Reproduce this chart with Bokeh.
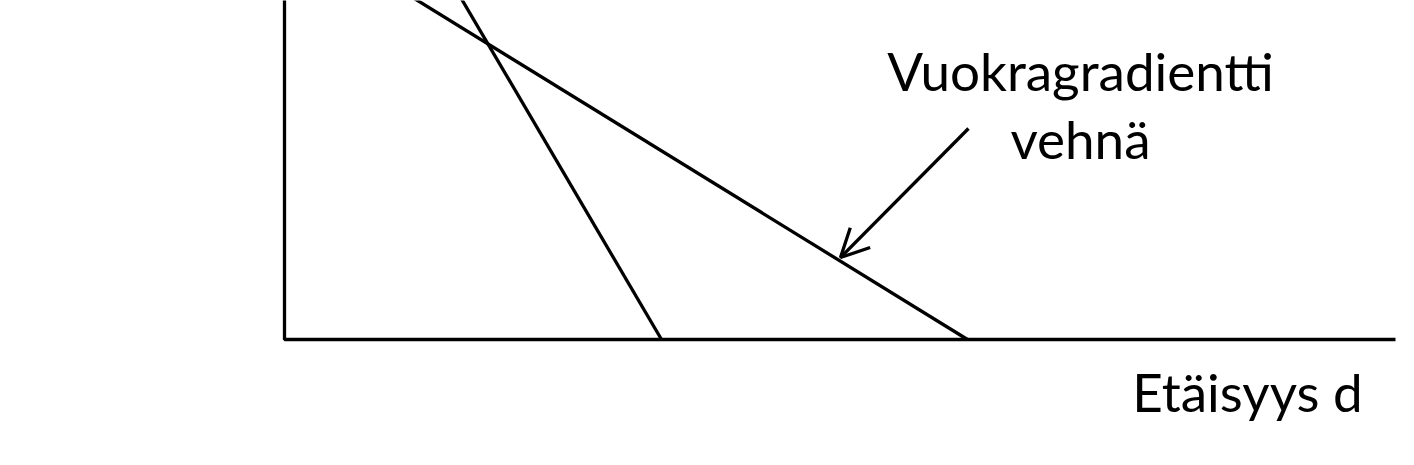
from bokeh.plotting import figure
from bokeh.models import Range1d, Arrow, OpenHead
from bokeh.core.properties import value
from bokeh.embed import file_html
from bokeh.resources import INLINE

# Axes (distance d horizontal, rent vertical)
axis_x = [0, 0, 1111]
axis_y = [345, 0, 0]

# Rent gradients: intercept on rent axis and on distance axis
steep_d = [0, 377]
steep_r = [642, 0]
wheat_d = [0, 683]
wheat_r = [421, 0]

# Annotation
label_lines = ["Vuokragradientti", "vehnä"]
label_d = [796, 796]
label_r = [269, 201]
arrow_start = (684, 211)
arrow_end = (556, 82)
xlabel = "Etäisyys d"
xlabel_pos = (963, -52)

FONT = "Lato"

p = figure(width=1398, height=449, output_backend="svg", toolbar_location=None,
           x_range=Range1d(-284, 1114), y_range=Range1d(-110, 339),
           min_border=0, outline_line_color=None)
p.axis.visible = False
p.grid.visible = False
p.background_fill_color = "white"
p.border_fill_color = "white"

p.line(axis_x, axis_y, line_color="black", line_width=3.3)
p.line(steep_d, steep_r, line_color="black", line_width=3.3)
p.line(wheat_d, wheat_r, line_color="black", line_width=3.3)

p.add_layout(Arrow(x_start=arrow_start[0], y_start=arrow_start[1],
                   x_end=arrow_end[0], y_end=arrow_end[1],
                   line_color="black", line_width=3.3,
                   end=OpenHead(size=28, line_color="black", line_width=3.3)))

p.text(x=label_d, y=label_r, text=label_lines, text_font=value(FONT),
       text_font_size="53px", text_align="center", text_baseline="alphabetic",
       text_color="black")
p.text(x=[xlabel_pos[0]], y=[xlabel_pos[1]], text=[xlabel], text_font=value(FONT),
       text_font_size="53px", text_align="center", text_baseline="alphabetic",
       text_color="black")

open("out.html", "w").write(file_html(p, INLINE))
